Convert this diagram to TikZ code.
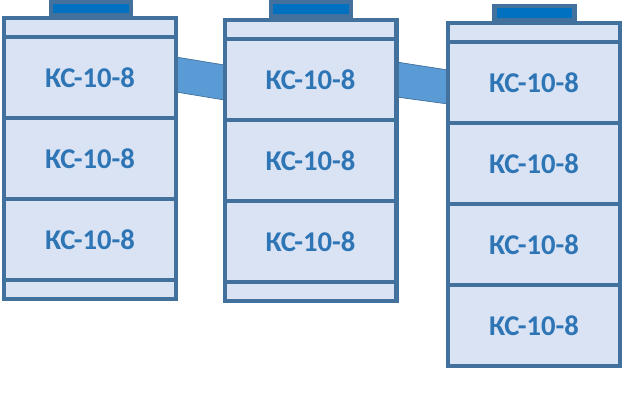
\documentclass[tikz,border=0pt]{standalone}
\usepackage{fontspec}
\setmainfont{Carlito}
\usetikzlibrary{backgrounds}
\definecolor{kborder}{HTML}{41719C}
\definecolor{kfill}{HTML}{DAE3F3}
\definecolor{ktext}{HTML}{2E75B6}
\definecolor{kcap}{HTML}{0070C0}
\definecolor{kpipe}{HTML}{5B9BD5}
\begin{document}
\begin{tikzpicture}[x=0.02cm,y=-0.02cm,
  strip/.style={rectangle,draw=kborder,fill=kfill,line width=2.3pt,outer sep=0pt,inner sep=0pt,minimum width=3.44cm,minimum height=0.38cm},
  module/.style={strip,minimum height=1.62cm,text=ktext,font=\bfseries\fontsize{16.3}{17}\selectfont},
  capbox/.style={rectangle,draw=kborder,fill=kcap,line width=2.3pt,outer sep=0pt,minimum width=1.6cm,minimum height=0.27cm},
  pipe/.style={fill=kpipe,draw=kborder,line width=0.4pt}]
\useasboundingbox (0,0) rectangle (625,400);
\begin{scope}
% column 1
\node (C1) at (91,8.5) [capbox] {};
\node (T1) at (90,27.5) [strip] {};
\node (M1a) at (90,77.5) [module] {КС-10-8};
\node (M1b) at (90,158.5) [module] {КС-10-8};
\node (M1c) at (90,239.5) [module] {КС-10-8};
\node (B1) at (90,289.5) [strip] {};
% column 2
\node (C2) at (311,9) [capbox] {};
\node (T2) at (310.5,29.5) [strip] {};
\node (M2a) at (310.5,79.5) [module] {КС-10-8};
\node (M2b) at (310.5,160.5) [module] {КС-10-8};
\node (M2c) at (310.5,241.5) [module] {КС-10-8};
\node (B2) at (310.5,291.5) [strip] {};
% column 3
\node (C3) at (534.5,13) [capbox] {};
\node (T3) at (534,32.5) [strip] {};
\node (M3a) at (534,82.5) [module] {КС-10-8};
\node (M3b) at (534,163.5) [module] {КС-10-8};
\node (M3c) at (534,244.5) [module] {КС-10-8};
\node (M3d) at (534,325.5) [module] {КС-10-8};
\end{scope}
\begin{pgfonlayer}{background}
\draw[pipe] ([yshift=0.41cm]M1a.east) -- ([yshift=0.29cm]M2a.west) -- ([yshift=-0.41cm]M2a.west) -- ([yshift=-0.29cm]M1a.east) -- cycle;
\draw[pipe] ([yshift=0.35cm]M2a.east) -- ([yshift=0.25cm]M3a.west) -- ([yshift=-0.43cm]M3a.west) -- ([yshift=-0.35cm]M2a.east) -- cycle;
\end{pgfonlayer}
\end{tikzpicture}
\end{document}
